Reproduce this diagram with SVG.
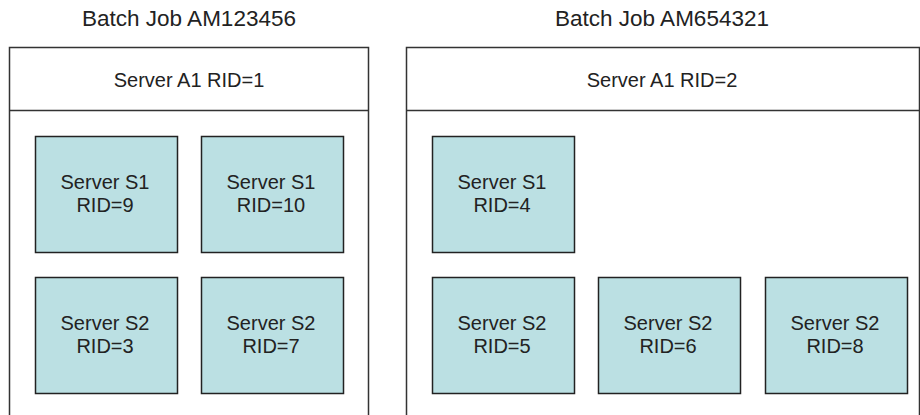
<svg xmlns="http://www.w3.org/2000/svg" width="920" height="415" viewBox="0 0 920 415">
<style>
text{font-family:"Liberation Sans",Arial,sans-serif;font-size:20px;fill:#222;text-anchor:middle}
text.title{font-size:22.5px}
.outer{fill:#fff;stroke:#333;stroke-width:1.5}
.srv{fill:#bbe0e3;stroke:#222;stroke-width:1.5}
</style>
<rect width="920" height="415" fill="#fff"/>
<g id="job1">
<text class="title" x="189" y="26">Batch Job AM123456</text>
<path class="outer" d="M9.5,416V47.5H368.5V416"/>
<line x1="9.5" y1="110.5" x2="368.5" y2="110.5" stroke="#333" stroke-width="1.5"/>
<text x="189" y="87">Server A1 RID=1</text>
</g>
<g id="job2">
<text class="title" x="662" y="26">Batch Job AM654321</text>
<path class="outer" d="M406.5,416V47.5H919.5V416"/>
<line x1="406.5" y1="110.5" x2="919.5" y2="110.5" stroke="#333" stroke-width="1.5"/>
<text x="662" y="87">Server A1 RID=2</text>
</g>
<g id="s9"><rect class="srv" x="35.5" y="136.5" width="142" height="116"/><text x="105" y="189">Server S1</text><text x="105" y="212">RID=9</text></g>
<g id="s10"><rect class="srv" x="201.5" y="136.5" width="142" height="116"/><text x="271" y="189">Server S1</text><text x="271" y="212">RID=10</text></g>
<g id="s3"><rect class="srv" x="35.5" y="277.5" width="142" height="116"/><text x="105" y="330">Server S2</text><text x="105" y="353">RID=3</text></g>
<g id="s7"><rect class="srv" x="201.5" y="277.5" width="142" height="116"/><text x="271" y="330">Server S2</text><text x="271" y="353">RID=7</text></g>
<g id="s4"><rect class="srv" x="432.5" y="136.5" width="142" height="116"/><text x="502" y="189">Server S1</text><text x="502" y="212">RID=4</text></g>
<g id="s5"><rect class="srv" x="432.5" y="277.5" width="142" height="116"/><text x="502" y="330">Server S2</text><text x="502" y="353">RID=5</text></g>
<g id="s6"><rect class="srv" x="598.5" y="277.5" width="142" height="116"/><text x="668" y="330">Server S2</text><text x="668" y="353">RID=6</text></g>
<g id="s8"><rect class="srv" x="765.5" y="277.5" width="142" height="116"/><text x="835" y="330">Server S2</text><text x="835" y="353">RID=8</text></g>
<g id="connectors"/>
</svg>
